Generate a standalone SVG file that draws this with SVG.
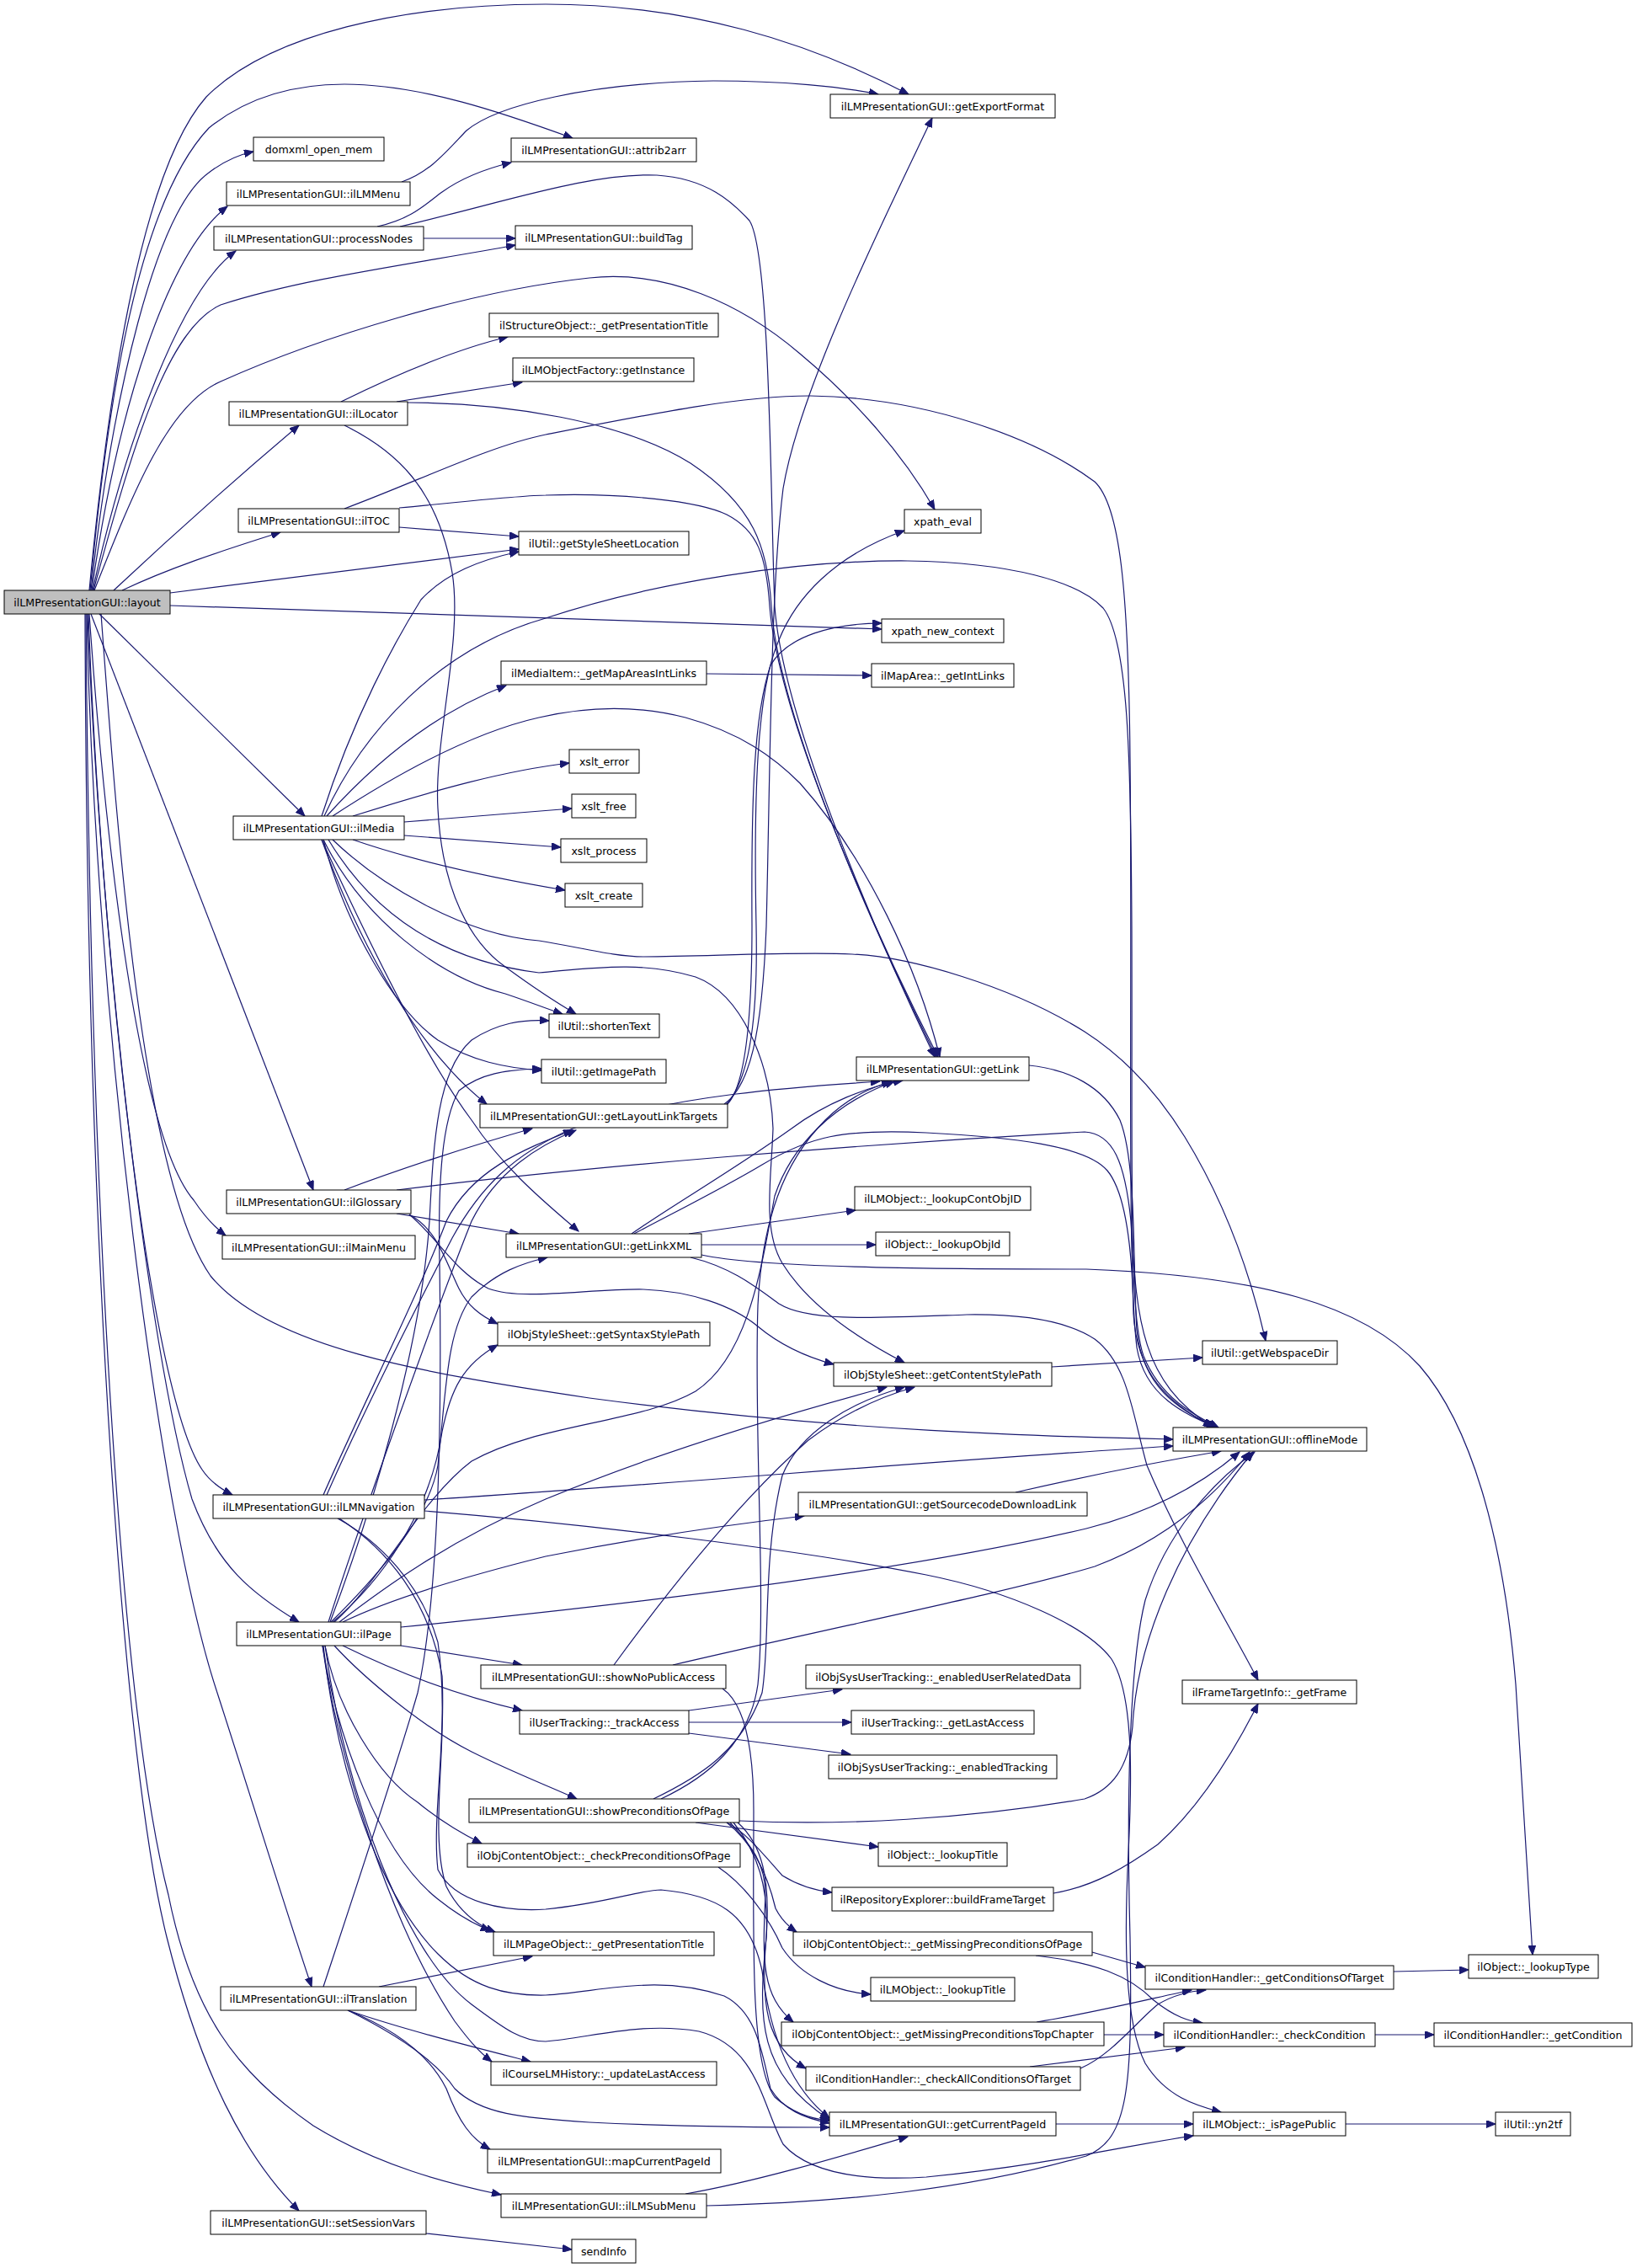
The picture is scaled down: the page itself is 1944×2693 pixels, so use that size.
<svg xmlns="http://www.w3.org/2000/svg" width="1944" height="2693" viewBox="0 0 1944 2693">
<style>
.n rect{fill:#fff;stroke:#000;stroke-width:1}
.n text{font-family:"DejaVu Sans","Liberation Sans",sans-serif;font-size:12.6px;text-anchor:middle;fill:#000}
#root rect{fill:#bfbfbf}
#edges path{fill:none;stroke:#191970;stroke-width:1.2;marker-end:url(#a)}
</style>
<defs>
<marker id="a" markerWidth="12" markerHeight="9" refX="11" refY="4.5" orient="auto" markerUnits="userSpaceOnUse"><path d="M0,0 L11,4.5 L0,9 z" fill="#191970" stroke="#191970" stroke-width="1"/></marker>
</defs>
<rect width="1944" height="2693" fill="#fff"/>
<g id="edges">
<path d="M106,701 C 130,450 170,200 245,115 C 320,40 480,5 648,5 C 820,5 960,50 1079,112"/>
<path d="M107,701 C 128,470 165,240 248,152 C 300,110 360,100 409,100 C 500,100 600,135 680,164"/>
<path d="M108,701 C 133,470 185,250 248,205 C 265,192 282,184 301,180"/>
<path d="M109,701 C 140,480 200,300 270,245"/>
<path d="M110,701 C 150,520 215,345 280,298"/>
<path d="M111,701 C 160,520 200,390 262,362 C 360,330 500,312 612,291"/>
<path d="M112,701 C 160,580 200,480 262,453 C 380,400 560,345 700,330 C 790,320 880,360 950,420 C 1010,470 1070,535 1110,605"/>
<path d="M135,701 C 200,640 290,560 355,505"/>
<path d="M145,701 C 200,675 260,655 333,632"/>
<path d="M202,704 L616,652"/>
<path d="M202,719 L1047,747"/>
<path d="M120,729 C 140,1000 170,1400 250,1515 C 320,1600 500,1630 700,1660 C 1000,1700 1250,1706 1393,1709"/>
<path d="M118,729 L362,969"/>
<path d="M108,729 L372,1413"/>
<path d="M106,729 C 125,1000 165,1350 230,1425 C 242,1443 253,1456 268,1467"/>
<path d="M105,729 C 118,1100 175,1650 240,1745 C 250,1760 262,1768 276,1775"/>
<path d="M104,729 C 118,1100 175,1600 228,1780 C 258,1860 300,1893 355,1926"/>
<path d="M103,729 C 113,1200 188,1800 258,2010 C 300,2140 340,2270 370,2359"/>
<path d="M101,729 C 103,1500 148,2100 198,2300 C 238,2460 290,2560 355,2625"/>
<path d="M102,729 C 108,1500 148,2050 200,2250 C 228,2390 280,2460 372,2524 C 450,2572 530,2592 595,2606"/>
<path d="M477,216 C 510,205 530,180 554,155 C 590,125 700,98 847,96 C 930,96 1000,103 1043,112"/>
<path d="M448,269 C 490,260 508,240 525,228 C 550,210 578,200 607,193"/>
<path d="M503,283 L612,283"/>
<path d="M475,269 C 600,240 700,205 780,208 C 840,212 870,240 890,262 C 915,300 915,600 920,720 C 930,860 1050,1130 1110,1255"/>
<path d="M405,477 C 470,445 540,415 603,400"/>
<path d="M471,477 L620,454"/>
<path d="M484,478 C 600,478 740,500 820,550 C 895,600 912,650 916,720 C 925,860 1050,1130 1112,1255"/>
<path d="M409,505 C 470,535 520,580 537,680 C 550,760 515,880 520,960 C 525,1060 560,1120 600,1148 C 630,1170 660,1190 684,1204"/>
<path d="M409,604 C 500,570 580,530 648,516 C 780,490 880,470 962,470 C 1100,472 1230,520 1300,572 C 1330,600 1340,700 1342,900 C 1345,1200 1338,1500 1350,1600 C 1360,1660 1410,1680 1445,1695"/>
<path d="M474,603 C 560,595 620,588 648,588 C 740,585 830,595 863,611 C 900,630 910,660 914,720 C 925,860 1050,1130 1114,1255"/>
<path d="M474,626 L616,637"/>
<path d="M382,969 C 420,850 470,760 500,712 C 530,680 570,665 616,655"/>
<path d="M385,969 C 430,870 520,770 648,734 C 780,690 950,665 1078,666 C 1200,668 1280,690 1310,722 C 1340,760 1343,900 1344,1100 C 1345,1400 1340,1560 1358,1610 C 1378,1660 1418,1680 1447,1695"/>
<path d="M388,969 C 450,900 520,845 601,814"/>
<path d="M395,969 C 470,920 560,870 640,852 C 700,838 760,838 814,852 C 880,870 920,900 950,930 C 1030,1020 1090,1150 1116,1255"/>
<path d="M419,969 C 520,937 600,915 676,906"/>
<path d="M480,976 L679,960"/>
<path d="M480,992 L666,1006"/>
<path d="M419,997 C 500,1025 600,1045 671,1057"/>
<path d="M395,997 C 450,1050 550,1110 640,1117 C 690,1125 730,1136 764,1136 C 850,1135 950,1130 1012,1133 C 1080,1136 1200,1170 1288,1225 C 1330,1252 1370,1290 1407,1350 C 1450,1420 1482,1500 1503,1592"/>
<path d="M390,997 C 440,1080 520,1140 640,1155 C 700,1150 760,1140 826,1160 C 880,1180 915,1260 918,1340 C 916,1400 905,1460 929,1500 C 960,1550 1020,1590 1074,1618"/>
<path d="M384,997 C 430,1090 520,1160 600,1180 C 630,1190 650,1198 668,1204"/>
<path d="M384,997 C 410,1100 470,1200 520,1235 C 560,1260 600,1268 643,1271"/>
<path d="M382,997 C 430,1130 500,1250 578,1311"/>
<path d="M382,997 C 420,1080 500,1250 560,1330 C 600,1390 650,1430 687,1462"/>
<path d="M839,800 L1035,802"/>
<path d="M860,1311 C 890,1290 905,1230 910,1100 C 915,900 915,700 930,580 C 950,460 1050,260 1107,140"/>
<path d="M862,1312 C 892,1280 900,1200 898,1100 C 895,950 898,820 925,760 C 945,710 990,660 1074,630"/>
<path d="M863,1312 C 886,1290 893,1200 893,1100 C 892,950 895,850 915,790 C 935,755 990,740 1047,740"/>
<path d="M1222,1265 C 1270,1270 1310,1290 1330,1330 C 1350,1380 1345,1500 1350,1580 C 1358,1650 1400,1672 1442,1695"/>
<path d="M409,1413 C 470,1390 560,1360 632,1340"/>
<path d="M471,1413 C 700,1385 1000,1360 1288,1344 C 1322,1346 1336,1380 1343,1450 C 1350,1560 1352,1640 1440,1694"/>
<path d="M471,1441 L616,1465"/>
<path d="M486,1442 C 520,1460 530,1500 545,1530 C 555,1550 570,1562 591,1572"/>
<path d="M486,1442 C 520,1470 540,1510 580,1530 C 620,1545 700,1530 764,1531 C 820,1533 870,1550 900,1575 C 930,1600 960,1612 990,1620"/>
<path d="M818,1465 L1016,1437"/>
<path d="M833,1478 L1040,1478"/>
<path d="M833,1490 C 900,1505 1100,1507 1290,1507 C 1500,1515 1620,1550 1686,1622 C 1745,1690 1785,1820 1800,2000 C 1810,2150 1815,2250 1820,2321"/>
<path d="M820,1493 C 870,1505 900,1530 925,1548 C 960,1570 1040,1565 1148,1561 C 1220,1560 1270,1570 1300,1590 C 1340,1620 1345,1680 1362,1740 C 1400,1830 1460,1930 1494,1995"/>
<path d="M750,1465 C 800,1430 870,1390 940,1340 C 980,1310 1030,1290 1072,1283"/>
<path d="M753,1465 C 800,1440 860,1410 905,1383 C 960,1350 1000,1340 1100,1345 C 1200,1350 1290,1360 1315,1390 C 1340,1420 1345,1500 1346,1560 C 1350,1630 1385,1665 1440,1694"/>
<path d="M1249,1623 L1428,1612"/>
<path d="M1206,1772 C 1280,1755 1380,1735 1450,1723"/>
<path d="M384,1775 C 430,1670 500,1530 530,1450 C 560,1390 620,1365 680,1342"/>
<path d="M388,1775 C 430,1680 480,1580 537,1470 C 570,1410 610,1370 680,1340 C 800,1300 950,1290 1045,1284"/>
<path d="M504,1781 C 800,1762 1100,1735 1393,1717"/>
<path d="M504,1794 C 700,1810 950,1840 1100,1870 C 1200,1890 1290,1930 1320,1970 C 1345,2010 1345,2100 1340,2200 C 1335,2300 1335,2400 1360,2450 C 1385,2490 1420,2500 1450,2508"/>
<path d="M403,1803 C 460,1840 510,1900 525,1990 C 530,2080 510,2180 530,2240 C 545,2270 565,2285 588,2294"/>
<path d="M401,1803 C 450,1830 500,1880 520,1950 C 535,2050 512,2150 520,2220 C 540,2260 600,2270 648,2267 C 720,2260 760,2244 785,2244 C 850,2250 890,2270 905,2340 C 915,2420 940,2480 985,2515"/>
<path d="M390,1926 C 430,1800 520,1550 560,1450 C 590,1390 640,1360 684,1342"/>
<path d="M392,1926 C 440,1800 500,1600 510,1450 C 515,1350 520,1270 560,1235 C 590,1215 620,1210 652,1212"/>
<path d="M384,2359 C 420,2250 470,2100 496,2010 C 520,1900 525,1700 522,1500 C 520,1400 525,1330 545,1295 C 570,1275 600,1270 643,1269"/>
<path d="M393,1926 C 450,1870 510,1800 520,1740 C 530,1650 530,1580 560,1540 C 590,1510 620,1500 650,1493"/>
<path d="M395,1926 C 450,1880 510,1800 525,1700 C 535,1650 550,1620 591,1597"/>
<path d="M397,1926 C 450,1880 500,1780 560,1735 C 640,1690 760,1690 826,1652 C 890,1610 905,1500 920,1420 C 940,1360 990,1310 1062,1284"/>
<path d="M403,1926 C 450,1890 530,1830 648,1780 C 780,1725 930,1680 1053,1647"/>
<path d="M407,1926 C 450,1905 520,1880 648,1848 C 750,1828 850,1812 955,1800"/>
<path d="M476,1932 C 800,1900 1100,1860 1290,1815 C 1370,1795 1430,1760 1472,1724"/>
<path d="M476,1954 L620,1977"/>
<path d="M407,1954 C 460,1980 530,2010 620,2031"/>
<path d="M397,1954 C 430,1990 500,2050 560,2080 C 610,2105 650,2120 685,2136"/>
<path d="M386,1954 C 400,2030 450,2110 496,2140 C 520,2160 550,2178 572,2189"/>
<path d="M383,1954 C 400,2060 450,2200 520,2255 C 545,2275 563,2285 582,2292"/>
<path d="M383,1954 C 400,2080 460,2280 540,2400 C 555,2420 567,2435 584,2448"/>
<path d="M384,1954 C 400,2100 450,2250 520,2320 C 560,2360 600,2370 648,2369 C 720,2364 780,2344 860,2370 C 900,2390 905,2440 915,2480 C 930,2505 955,2515 985,2521"/>
<path d="M386,1954 C 410,2130 480,2320 560,2380 C 600,2410 620,2424 648,2424 C 700,2420 760,2400 830,2412 C 900,2430 905,2500 930,2546 C 960,2580 1020,2590 1100,2585 C 1250,2570 1350,2545 1417,2536"/>
<path d="M729,1977 C 800,1880 880,1780 960,1710 C 1000,1680 1040,1660 1086,1647"/>
<path d="M799,1977 C 1000,1930 1200,1890 1300,1860 C 1380,1830 1440,1780 1484,1724"/>
<path d="M858,2005 C 880,2020 895,2060 895,2150 C 895,2300 890,2450 920,2490 C 940,2508 962,2516 985,2518"/>
<path d="M818,2031 L1000,2006"/>
<path d="M818,2045 L1011,2045"/>
<path d="M818,2058 L1010,2083"/>
<path d="M776,2136 C 830,2110 880,2080 905,2010 C 915,1950 905,1850 929,1752 C 950,1700 1010,1665 1074,1647"/>
<path d="M785,2136 C 840,2110 890,2070 900,2000 C 910,1900 895,1700 900,1550 C 905,1450 930,1380 980,1330 C 1010,1300 1040,1290 1058,1284"/>
<path d="M878,2162 C 1000,2168 1150,2160 1288,2136 C 1320,2125 1340,2100 1345,2050 C 1350,1950 1400,1830 1488,1724"/>
<path d="M826,2164 L1043,2193"/>
<path d="M863,2164 C 885,2175 905,2200 929,2227 C 950,2240 970,2245 988,2247"/>
<path d="M863,2164 C 890,2185 910,2220 921,2266 C 928,2280 937,2288 946,2294"/>
<path d="M867,2164 C 890,2190 909,2210 909,2250 C 905,2330 905,2370 942,2401"/>
<path d="M871,2164 C 900,2200 913,2240 910,2300 C 903,2380 910,2430 957,2456"/>
<path d="M876,2164 C 905,2190 915,2230 910,2300 C 900,2400 900,2460 985,2517"/>
<path d="M853,2217 C 880,2235 910,2270 929,2313 C 950,2345 990,2365 1034,2368"/>
<path d="M1297,2318 L1360,2336"/>
<path d="M1230,2322 C 1300,2330 1340,2345 1370,2375 C 1395,2395 1412,2400 1428,2402"/>
<path d="M1231,2401 C 1300,2390 1380,2370 1415,2363"/>
<path d="M1311,2416 L1382,2416"/>
<path d="M1283,2456 C 1320,2440 1350,2400 1375,2380 C 1395,2368 1415,2364 1432,2363"/>
<path d="M1223,2454 L1407,2431"/>
<path d="M1655,2341 L1744,2339"/>
<path d="M1633,2416 L1703,2416"/>
<path d="M1254,2522 L1417,2522"/>
<path d="M1598,2522 L1776,2522"/>
<path d="M1251,2248 C 1300,2240 1340,2215 1375,2190 C 1420,2150 1460,2090 1494,2023"/>
<path d="M450,2359 L632,2323"/>
<path d="M413,2387 C 480,2410 560,2430 630,2448"/>
<path d="M413,2387 C 470,2410 510,2440 530,2480 C 545,2520 560,2540 582,2552"/>
<path d="M413,2387 C 480,2420 520,2450 540,2480 C 570,2510 620,2515 700,2520 C 800,2525 900,2526 985,2526"/>
<path d="M814,2605 C 900,2590 1000,2560 1078,2537"/>
<path d="M839,2619 C 1000,2615 1150,2600 1290,2560 C 1340,2540 1345,2480 1342,2300 C 1338,2150 1340,1980 1360,1900 C 1385,1820 1440,1760 1490,1724"/>
<path d="M506,2652 L679,2671"/>
</g>
<g id="root" class="n"><rect x="5" y="701" width="197" height="28"/><text x="103.5" y="720">ilLMPresentationGUI::layout</text></g>
<g id="n_domxml" class="n"><rect x="301" y="163" width="155" height="28"/><text x="378.5" y="182">domxml_open_mem</text></g>
<g id="n_ilLMMenu" class="n"><rect x="269" y="216" width="218" height="28"/><text x="378" y="235">ilLMPresentationGUI::ilLMMenu</text></g>
<g id="n_processNodes" class="n"><rect x="254" y="269" width="249" height="28"/><text x="378.5" y="288">ilLMPresentationGUI::processNodes</text></g>
<g id="n_attrib2arr" class="n"><rect x="607" y="164" width="220" height="28"/><text x="717" y="183">ilLMPresentationGUI::attrib2arr</text></g>
<g id="n_buildTag" class="n"><rect x="612" y="268" width="210" height="28"/><text x="717" y="287">ilLMPresentationGUI::buildTag</text></g>
<g id="n_getExportFormat" class="n"><rect x="986" y="112" width="267" height="28"/><text x="1119.5" y="131">ilLMPresentationGUI::getExportFormat</text></g>
<g id="n_structTitle" class="n"><rect x="581" y="372" width="272" height="28"/><text x="717" y="391">ilStructureObject::_getPresentationTitle</text></g>
<g id="n_getInstance" class="n"><rect x="609" y="425" width="215" height="28"/><text x="716.5" y="444">ilLMObjectFactory::getInstance</text></g>
<g id="n_ilLocator" class="n"><rect x="272" y="477" width="212" height="28"/><text x="378" y="496">ilLMPresentationGUI::ilLocator</text></g>
<g id="n_ilTOC" class="n"><rect x="283" y="604" width="191" height="28"/><text x="378.5" y="623">ilLMPresentationGUI::ilTOC</text></g>
<g id="n_styleSheetLoc" class="n"><rect x="616" y="631" width="202" height="28"/><text x="717" y="650">ilUtil::getStyleSheetLocation</text></g>
<g id="n_xpath_eval" class="n"><rect x="1074" y="605" width="91" height="28"/><text x="1119.5" y="624">xpath_eval</text></g>
<g id="n_xpath_new_context" class="n"><rect x="1047" y="735" width="145" height="28"/><text x="1119.5" y="754">xpath_new_context</text></g>
<g id="n_mapAreas" class="n"><rect x="595" y="785" width="244" height="28"/><text x="717" y="804">ilMediaItem::_getMapAreasIntLinks</text></g>
<g id="n_intLinks" class="n"><rect x="1035" y="788" width="169" height="28"/><text x="1119.5" y="807">ilMapArea::_getIntLinks</text></g>
<g id="n_xslt_error" class="n"><rect x="676" y="890" width="83" height="28"/><text x="717.5" y="909">xslt_error</text></g>
<g id="n_xslt_free" class="n"><rect x="679" y="943" width="76" height="28"/><text x="717" y="962">xslt_free</text></g>
<g id="n_xslt_process" class="n"><rect x="666" y="996" width="102" height="28"/><text x="717" y="1015">xslt_process</text></g>
<g id="n_xslt_create" class="n"><rect x="671" y="1049" width="92" height="28"/><text x="717" y="1068">xslt_create</text></g>
<g id="n_ilMedia" class="n"><rect x="277" y="969" width="203" height="28"/><text x="378.5" y="988">ilLMPresentationGUI::ilMedia</text></g>
<g id="n_shortenText" class="n"><rect x="652" y="1204" width="131" height="28"/><text x="717.5" y="1223">ilUtil::shortenText</text></g>
<g id="n_getImagePath" class="n"><rect x="643" y="1258" width="148" height="28"/><text x="717" y="1277">ilUtil::getImagePath</text></g>
<g id="n_layoutLinkTargets" class="n"><rect x="570" y="1311" width="294" height="28"/><text x="717" y="1330">ilLMPresentationGUI::getLayoutLinkTargets</text></g>
<g id="n_getLink" class="n"><rect x="1017" y="1255" width="205" height="28"/><text x="1119.5" y="1274">ilLMPresentationGUI::getLink</text></g>
<g id="n_ilGlossary" class="n"><rect x="269" y="1413" width="219" height="28"/><text x="378.5" y="1432">ilLMPresentationGUI::ilGlossary</text></g>
<g id="n_ilMainMenu" class="n"><rect x="264" y="1467" width="229" height="28"/><text x="378.5" y="1486">ilLMPresentationGUI::ilMainMenu</text></g>
<g id="n_getLinkXML" class="n"><rect x="601" y="1465" width="232" height="28"/><text x="717" y="1484">ilLMPresentationGUI::getLinkXML</text></g>
<g id="n_lookupContObjID" class="n"><rect x="1015" y="1409" width="209" height="28"/><text x="1119.5" y="1428">ilLMObject::_lookupContObjID</text></g>
<g id="n_lookupObjId" class="n"><rect x="1040" y="1463" width="159" height="28"/><text x="1119.5" y="1482">ilObject::_lookupObjId</text></g>
<g id="n_syntaxStyle" class="n"><rect x="591" y="1570" width="252" height="28"/><text x="717" y="1589">ilObjStyleSheet::getSyntaxStylePath</text></g>
<g id="n_contentStyle" class="n"><rect x="990" y="1618" width="259" height="28"/><text x="1119.5" y="1637">ilObjStyleSheet::getContentStylePath</text></g>
<g id="n_webspaceDir" class="n"><rect x="1428" y="1592" width="160" height="28"/><text x="1508" y="1611">ilUtil::getWebspaceDir</text></g>
<g id="n_offlineMode" class="n"><rect x="1393" y="1695" width="230" height="28"/><text x="1508" y="1714">ilLMPresentationGUI::offlineMode</text></g>
<g id="n_ilLMNavigation" class="n"><rect x="253" y="1775" width="251" height="28"/><text x="378.5" y="1794">ilLMPresentationGUI::ilLMNavigation</text></g>
<g id="n_sourcecode" class="n"><rect x="948" y="1772" width="343" height="28"/><text x="1119.5" y="1791">ilLMPresentationGUI::getSourcecodeDownloadLink</text></g>
<g id="n_ilPage" class="n"><rect x="281" y="1926" width="195" height="28"/><text x="378.5" y="1945">ilLMPresentationGUI::ilPage</text></g>
<g id="n_showNoPublic" class="n"><rect x="571" y="1977" width="291" height="28"/><text x="716.5" y="1996">ilLMPresentationGUI::showNoPublicAccess</text></g>
<g id="n_userRelated" class="n"><rect x="957" y="1977" width="326" height="28"/><text x="1120" y="1996">ilObjSysUserTracking::_enabledUserRelatedData</text></g>
<g id="n_getFrame" class="n"><rect x="1404" y="1995" width="207" height="28"/><text x="1507.5" y="2014">ilFrameTargetInfo::_getFrame</text></g>
<g id="n_trackAccess" class="n"><rect x="617" y="2031" width="201" height="28"/><text x="717.5" y="2050">ilUserTracking::_trackAccess</text></g>
<g id="n_lastAccess" class="n"><rect x="1011" y="2031" width="217" height="28"/><text x="1119.5" y="2050">ilUserTracking::_getLastAccess</text></g>
<g id="n_enabledTracking" class="n"><rect x="984" y="2084" width="271" height="28"/><text x="1119.5" y="2103">ilObjSysUserTracking::_enabledTracking</text></g>
<g id="n_showPrecond" class="n"><rect x="557" y="2136" width="321" height="28"/><text x="717.5" y="2155">ilLMPresentationGUI::showPreconditionsOfPage</text></g>
<g id="n_objLookupTitle" class="n"><rect x="1043" y="2188" width="153" height="28"/><text x="1119.5" y="2207">ilObject::_lookupTitle</text></g>
<g id="n_checkPrecond" class="n"><rect x="555" y="2189" width="324" height="28"/><text x="717" y="2208">ilObjContentObject::_checkPreconditionsOfPage</text></g>
<g id="n_buildFrameTarget" class="n"><rect x="988" y="2241" width="263" height="28"/><text x="1119.5" y="2260">ilRepositoryExplorer::buildFrameTarget</text></g>
<g id="n_missingPage" class="n"><rect x="942" y="2294" width="355" height="28"/><text x="1119.5" y="2313">ilObjContentObject::_getMissingPreconditionsOfPage</text></g>
<g id="n_pageTitle" class="n"><rect x="586" y="2294" width="262" height="28"/><text x="717" y="2313">ilLMPageObject::_getPresentationTitle</text></g>
<g id="n_condOfTarget" class="n"><rect x="1360" y="2334" width="295" height="28"/><text x="1507.5" y="2353">ilConditionHandler::_getConditionsOfTarget</text></g>
<g id="n_lookupType" class="n"><rect x="1744" y="2321" width="154" height="28"/><text x="1821" y="2340">ilObject::_lookupType</text></g>
<g id="n_lmLookupTitle" class="n"><rect x="1034" y="2348" width="171" height="28"/><text x="1119.5" y="2367">ilLMObject::_lookupTitle</text></g>
<g id="n_ilTranslation" class="n"><rect x="262" y="2359" width="232" height="28"/><text x="378" y="2378">ilLMPresentationGUI::ilTranslation</text></g>
<g id="n_missingTop" class="n"><rect x="928" y="2401" width="383" height="28"/><text x="1119.5" y="2420">ilObjContentObject::_getMissingPreconditionsTopChapter</text></g>
<g id="n_checkCondition" class="n"><rect x="1382" y="2402" width="251" height="28"/><text x="1507.5" y="2421">ilConditionHandler::_checkCondition</text></g>
<g id="n_getCondition" class="n"><rect x="1703" y="2402" width="235" height="28"/><text x="1820.5" y="2421">ilConditionHandler::_getCondition</text></g>
<g id="n_updateLast" class="n"><rect x="583" y="2448" width="268" height="28"/><text x="717" y="2467">ilCourseLMHistory::_updateLastAccess</text></g>
<g id="n_checkAll" class="n"><rect x="957" y="2454" width="326" height="28"/><text x="1120" y="2473">ilConditionHandler::_checkAllConditionsOfTarget</text></g>
<g id="n_currentPageId" class="n"><rect x="985" y="2508" width="269" height="28"/><text x="1119.5" y="2527">ilLMPresentationGUI::getCurrentPageId</text></g>
<g id="n_isPagePublic" class="n"><rect x="1417" y="2508" width="181" height="28"/><text x="1507.5" y="2527">ilLMObject::_isPagePublic</text></g>
<g id="n_yn2tf" class="n"><rect x="1776" y="2508" width="89" height="28"/><text x="1820.5" y="2527">ilUtil::yn2tf</text></g>
<g id="n_mapCurrent" class="n"><rect x="579" y="2552" width="277" height="28"/><text x="717.5" y="2571">ilLMPresentationGUI::mapCurrentPageId</text></g>
<g id="n_ilLMSubMenu" class="n"><rect x="595" y="2605" width="244" height="28"/><text x="717" y="2624">ilLMPresentationGUI::ilLMSubMenu</text></g>
<g id="n_setSessionVars" class="n"><rect x="250" y="2625" width="256" height="28"/><text x="378" y="2644">ilLMPresentationGUI::setSessionVars</text></g>
<g id="n_sendInfo" class="n"><rect x="679" y="2659" width="76" height="28"/><text x="717" y="2678">sendInfo</text></g>
</svg>
